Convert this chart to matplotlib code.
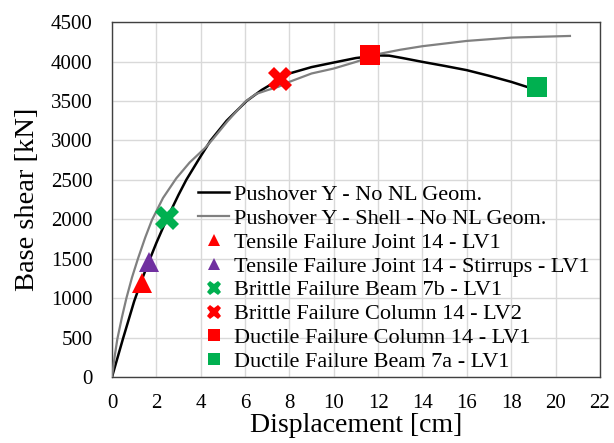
import matplotlib
matplotlib.use("Agg")
import matplotlib.pyplot as plt

plt.rcParams['font.family'] = ['serif']
plt.rcParams['font.serif'] = ['Liberation Serif', 'DejaVu Serif']

# Pushover curve (black)
bx = [0, 0.5, 1.0, 1.34, 1.70, 2.0, 2.45, 3.0, 3.35, 4.0, 4.45, 5.17, 6.07, 6.75, 7.57, 8.0,
      9.0, 10.0, 11.0, 12.0, 12.5, 13.1, 14.0, 15.0, 16.0, 17.0, 18.0, 18.7]
by = [0, 490, 960, 1230, 1490, 1700, 1990, 2310, 2500, 2800, 3000, 3250, 3500, 3640, 3777, 3849,
      3930, 3988, 4045, 4078, 4075, 4045, 3996, 3945, 3891, 3820, 3743, 3680]

# Pushover shell curve (gray)
gx = [0, 0.12, 0.24, 0.45, 0.65, 0.9, 1.17, 1.5, 1.8, 2.3, 2.9, 3.5, 4.18, 4.5, 5.2, 6.0, 6.5,
      7.0, 7.5, 8.0, 9.0, 10.0, 11.0, 12.0, 13.0, 14.0, 16.0, 18.0, 20.65]
gy = [0, 260, 480, 760, 1000, 1260, 1500, 1770, 1990, 2270, 2520, 2720, 2900, 3000, 3240, 3490, 3590,
      3637, 3680, 3743, 3849, 3912, 3996, 4095, 4150, 4195, 4262, 4304, 4325]

# failure points
pt_labels = ["Tensile Failure Joint 14 - LV1",
             "Tensile Failure Joint 14 - Stirrups - LV1",
             "Brittle Failure Beam 7b - LV1",
             "Brittle Failure Column 14 - LV2",
             "Ductile Failure Column 14 - LV1",
             "Ductile Failure Beam 7a - LV1"]
pt_x = [1.34, 1.68, 2.47, 7.57, 11.63, 19.15]
pt_y = [1191, 1461, 2019, 3777, 4081, 3672]
pt_colors = ["#ff0000", "#7030a0", "#00b050", "#ff0000", "#ff0000", "#00b050"]
pt_markers = ["^", "^", "X", "X", "s", "s"]
pt_sizes = [15, 15, 17, 17, 14, 14]

fig = plt.figure(figsize=(6.14, 4.43), dpi=100)
ax = fig.add_axes([0.1824, 0.149, 0.7946, 0.801])

ax.plot(bx, by, color='black', lw=1.8, label="Pushover Y - No NL Geom.", zorder=3)
ax.plot(gx, gy, color='#808080', lw=1.6, label="Pushover Y - Shell - No NL Geom.", zorder=3)
for x, y, c, m, s, l in zip(pt_x, pt_y, pt_colors, pt_markers, pt_sizes, pt_labels):
    ax.plot([x], [y], linestyle='none', marker=m, color=c, markersize=s,
            markeredgewidth=0, label=l, zorder=4)

ax.set_xlim(0, 22)
ax.set_ylim(0, 4500)
ax.set_xticks(range(0, 23, 2))
ax.set_yticks(range(0, 4501, 500))
ax.grid(True, color='#d9d9d9', lw=1.0)
ax.set_axisbelow(True)
ax.tick_params(length=0, labelsize=15)
ax.tick_params(axis='y', pad=14)
ax.tick_params(axis='x', pad=12)
for sp in ax.spines.values():
    sp.set_color('#404040')
    sp.set_linewidth(1.0)

ax.set_xlabel("Displacement [cm]", fontsize=20, labelpad=0)
ax.set_ylabel("Base shear [kN]", fontsize=20.5, labelpad=8)

leg = ax.legend(loc='lower left', bbox_to_anchor=(0.145, -0.03), frameon=False,
                fontsize=16, markerscale=0.62, handlelength=1.4, handletextpad=0.2,
                labelspacing=0.15, borderpad=0.2)

fig.savefig("out.png", dpi=100)
